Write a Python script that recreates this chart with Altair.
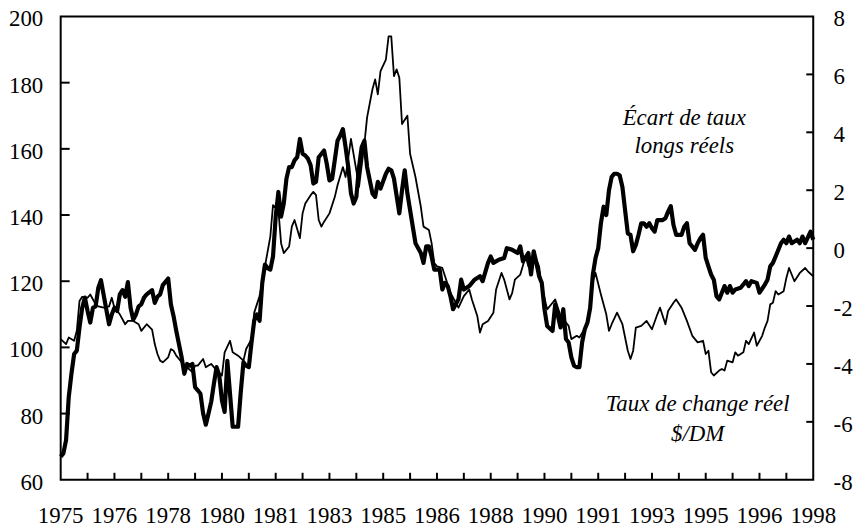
import altair as alt
import pandas as pd

# ---------------- data ----------------
x_labels = ["1975", "1976", "1978", "1980", "1981", "1983", "1985", "1986",
            "1988", "1990", "1991", "1993", "1995", "1996", "1998"]
x_label_month = [0, 20, 40, 60, 80, 100, 120, 140, 160, 180, 200, 220, 240, 260, 280]
left_ticks = [60, 80, 100, 120, 140, 160, 180, 200]
right_ticks = [-8, -6, -4, -2, 0, 2, 4, 6, 8]

# month index (0 = Jan 1975) ; real exchange rate $/DM (left axis)
thin_month = [0, 2, 3, 5, 6, 7, 8, 10, 11, 13, 14, 16, 18, 19, 20, 22, 24, 25, 27, 29,
              30, 32, 34, 35, 36, 37, 38, 40, 41, 42, 43, 45, 46, 47, 49, 50, 51, 53, 54, 55,
              56, 58, 60, 61, 63, 64, 66, 68, 69, 71, 72, 74, 76, 78, 79, 81, 82, 83, 85, 86,
              87, 89, 90, 91, 93, 94, 95, 96, 97, 98, 100, 102, 103, 105, 106, 108, 110, 111, 113, 114,
              116, 117, 118, 119, 121, 122, 123, 124, 125, 126, 127, 129, 130, 132, 134, 135, 137, 138, 139, 140,
              142, 143, 145, 147, 148, 150, 152, 153, 155, 156, 157, 159, 161, 162, 164, 165, 167, 168, 169, 171,
              173, 174, 175, 176, 178, 179, 181, 183, 184, 186, 188, 189, 190, 192, 193, 196, 198, 199, 201, 203,
              204, 205, 207, 209, 211, 212, 213, 214, 216, 218, 220, 222, 223, 225, 226, 228, 229, 231, 233, 235,
              237, 239, 240, 241, 242, 243, 245, 246, 247, 248, 250, 251, 252, 254, 255, 256, 258, 259, 261, 262,
              263, 264, 265, 266, 267, 269, 270, 271, 273, 275, 277, 278, 280]
thin_value = [102.5, 101, 103, 102, 105, 114, 115.3, 115, 116, 113, 112.4, 112, 112.4, 115, 112, 110, 107, 108, 108, 107,
              105, 107, 105.4, 101, 98, 96, 95.5, 97, 99.5, 99, 97.5, 95.5, 94.5, 94, 92.5, 94.5, 94.5, 96.5, 94, 94.5,
              95, 93, 91.5, 98.5, 102, 98.5, 97.5, 96, 99.5, 102.5, 110.5, 115.5, 124.5, 133.5, 143, 141.5, 131.5, 128.5, 130.5, 136.5,
              138.5, 133, 140.5, 143.5, 146, 147, 146, 138.5, 136.5, 138, 140.5, 145.5, 149, 154.5, 151.5, 163, 153.5, 148.5, 161.5, 169.5,
              178, 181, 176.5, 183.5, 187, 194, 194, 182, 184, 181.5, 167.5, 170, 158.5, 151.5, 142.5, 136.5, 135.5, 131.5, 125.5, 124.5,
              124, 121.5, 116.5, 113.5, 112, 115.5, 117.5, 114.5, 109.5, 104.5, 107, 108, 110.5, 117.5, 122.5, 120.5, 114.5, 116.5, 120.5, 122,
              127.5, 124.5, 123.5, 128.5, 124.5, 118.5, 111.5, 113.5, 114.5, 109.5, 107.5, 106.5, 102.5, 103.5, 103, 107, 120, 122.5, 116, 110,
              105, 107, 110.5, 107, 99, 96.5, 99, 106, 106.5, 108, 105.5, 110, 112, 107, 111, 113.5, 114.5, 112, 108, 103.5,
              101.5, 102, 98, 99, 92.5, 91.5, 93, 93.5, 93, 96, 95.5, 98.5, 97.5, 98.5, 102, 101, 104.5, 100.5, 103.5, 106,
              108, 113, 113.5, 117, 116, 117, 121, 124, 120, 122.5, 124, 123, 121.5]

# month index ; real long-term interest-rate gap (right axis)
thick_month = [0, 1, 2, 3, 4, 5, 6, 7, 8, 9, 10, 11, 12, 13, 14, 15, 16, 17, 18, 19,
               20, 21, 22, 23, 24, 25, 26, 27, 28, 29, 30, 31, 32, 34, 35, 36, 37, 38, 40, 41,
               42, 43, 45, 46, 47, 48, 49, 50, 51, 52, 53, 54, 55, 56, 57, 58, 59, 60, 61, 62,
               63, 64, 65, 66, 67, 68, 69, 70, 71, 72, 73, 74, 75, 76, 77, 78, 79, 80, 81, 82,
               83, 84, 85, 86, 87, 88, 89, 90, 91, 92, 93, 94, 95, 96, 98, 99, 100, 101, 103, 104,
               105, 106, 107, 108, 109, 110, 111, 112, 113, 114, 116, 117, 118, 119, 121, 122, 123, 124, 126, 127,
               128, 129, 131, 132, 134, 135, 136, 137, 138, 139, 141, 142, 143, 144, 145, 146, 148, 149, 150, 152,
               154, 156, 157, 159, 160, 161, 163, 165, 166, 168, 170, 171, 172, 174, 175, 176, 177, 178, 179, 180,
               181, 183, 184, 185, 186, 187, 188, 189, 190, 191, 192, 193, 194, 195, 196, 197, 198, 199, 200, 201,
               202, 203, 204, 205, 206, 207, 208, 209, 210, 211, 212, 213, 214, 215, 216, 217, 218, 219, 220, 221,
               222, 224, 225, 226, 227, 228, 229, 230, 231, 232, 233, 234, 236, 237, 238, 239, 240, 241, 242, 243,
               244, 245, 246, 247, 248, 249, 250, 251, 253, 255, 256, 257, 259, 260, 262, 263, 264, 265, 266, 268,
               269, 270, 271, 272, 274, 275, 276, 277, 279, 280]
thick_value = [-7.2, -7.09, -6.63, -5.14, -4.34, -3.66, -3.54, -2.74, -2.06, -1.71, -2.17, -2.57, -2.06, -2.01, -1.37, -1.11, -1.62, -2.13, -2.63, -2.29,
               -2.06, -2.17, -1.6, -1.45, -1.68, -1.17, -2.06, -2.47, -2.29, -2.01, -1.94, -1.71, -1.6, -1.45, -1.89, -1.68, -1.6, -1.28, -1.05, -1.94,
               -2.35, -2.86, -3.77, -4.34, -4.0, -4.06, -4.0, -4.8, -4.91, -5.03, -5.71, -6.1, -5.71, -5.31, -4.69, -4.11, -4.4, -5.26, -5.66, -3.89,
               -5.03, -6.17, -6.17, -6.17, -4.97, -3.94, -4.06, -4.11, -3.26, -2.51, -2.29, -2.51, -1.2, -0.57, -0.69, -0.74, -0.29, 1.09, 1.94, 1.09,
               1.54, 2.4, 2.8, 2.8, 3.03, 3.14, 3.77, 3.26, 3.2, 3.09, 2.86, 2.23, 2.29, 3.14, 3.37, 2.91, 2.34, 2.4, 3.71, 3.89,
               4.11, 3.49, 2.8, 1.89, 1.54, 1.77, 2.8, 3.49, 3.71, 2.8, 1.89, 1.77, 2.29, 2.06, 2.57, 2.74, 2.69, 2.4, 1.2, 2.0,
               2.69, 1.89, 0.74, 0.17, -0.17, -0.51, 0.06, 0.06, -0.29, -0.74, -0.74, -1.43, -1.2, -1.31, -1.66, -2.11, -1.77, -1.09, -1.43, -1.31,
               -1.09, -0.97, -1.14, -0.51, -0.29, -0.51, -0.4, -0.34, 0.0, -0.06, -0.17, 0.06, -0.46, -0.17, -0.91, -0.11, -0.51, -0.97, -1.2, -2.11,
               -2.69, -2.86, -1.94, -2.34, -2.74, -2.11, -3.14, -3.26, -3.77, -4.06, -4.11, -4.11, -3.26, -2.8, -2.57, -2.06, -0.91, -0.34, 0.0, 0.86,
               1.43, 1.14, 2.0, 2.46, 2.57, 2.57, 2.51, 2.11, 1.31, 0.51, 0.46, -0.11, 0.11, 0.46, 0.86, 0.86, 0.74, 0.86, 0.69, 0.57,
               0.97, 0.97, 1.03, 1.26, 1.45, 0.8, 0.46, 0.46, 0.46, 0.74, 0.86, 0.17, -0.06, 0.17, 0.34, 0.46, -0.34, -0.63, -0.91, -1.09,
               -1.66, -1.77, -1.54, -1.31, -1.54, -1.31, -1.54, -1.43, -1.37, -1.14, -1.31, -1.14, -1.2, -1.54, -1.26, -1.09, -0.63, -0.51, -0.29, 0.17,
               0.29, 0.17, 0.4, 0.17, 0.29, 0.17, 0.4, 0.17, 0.57, 0.29]

annot_text = ["Écart de taux", "longs réels", "Taux de change réel", "$/DM"]

# ---------------- chart ----------------
W, H = 757, 466
FONT = "Liberation Serif"
FS = 23

thin_df = pd.DataFrame({"m": thin_month, "v": thin_value})
thick_df = pd.DataFrame({"m": thick_month, "v": thick_value})
xlab_df = pd.DataFrame({"m": x_label_month, "label": x_labels})
ann_df = pd.DataFrame({"t": annot_text,
                       "m": [232, 232, 237, 237],
                       "v": [167.3, 158.7, 80.8, 71.8]})

xscale = alt.Scale(domain=[0, 280], nice=False, zero=False)
lscale = alt.Scale(domain=[60, 200], nice=False, zero=False)
rscale = alt.Scale(domain=[-8, 8], nice=False, zero=False)

common = dict(domain=False, ticks=False, grid=False, labelFont=FONT, labelFontSize=FS,
              labelColor="black", labelFlush=False, labelOverlap=False, labelOffset=2.5)

laxis = alt.Axis(values=left_ticks, orient="left", labelPadding=18, **common)
raxis = alt.Axis(values=right_ticks, orient="right", labelPadding=20,
                 labelExpr="datum.value < 0 ? '-' + abs(datum.value) : '' + datum.value", **common)

thin = alt.Chart(thin_df).mark_line(color="black", strokeWidth=1.8, strokeJoin="round").encode(
    x=alt.X("m:Q", scale=xscale, axis=None),
    y=alt.Y("v:Q", scale=lscale, axis=laxis, title=""),
)

lticks = alt.Chart(pd.DataFrame({"v": left_ticks[1:-1]})).mark_rule(color="black", strokeWidth=2).encode(
    y=alt.Y("v:Q", scale=lscale, axis=None),
    x=alt.value(0), x2=alt.value(9),
)

bticks = alt.Chart(pd.DataFrame({"m": list(range(10, 280, 10))})).mark_rule(color="black", strokeWidth=2).encode(
    x=alt.X("m:Q", scale=xscale, axis=None),
    y=alt.value(H), y2=alt.value(H - 7),
)

xlabels = alt.Chart(xlab_df).mark_text(font=FONT, fontSize=FS, align="center", baseline="alphabetic",
                                       color="black").encode(
    x=alt.X("m:Q", scale=xscale, axis=None),
    y=alt.value(H + 44),
    text="label:N",
)

ann = alt.Chart(ann_df).mark_text(font=FONT, fontSize=FS, fontStyle="italic", align="center",
                                  baseline="alphabetic", color="black").encode(
    x=alt.X("m:Q", scale=xscale, axis=None),
    y=alt.Y("v:Q", scale=lscale, axis=None),
    text="t:N",
)

thick = alt.Chart(thick_df).mark_line(color="black", strokeWidth=4.2, strokeJoin="round").encode(
    x=alt.X("m:Q", scale=xscale, axis=None),
    y=alt.Y("v:Q", scale=rscale, axis=raxis, title=""),
)

rticks = alt.Chart(pd.DataFrame({"v": right_ticks[1:-1]})).mark_rule(color="black", strokeWidth=2).encode(
    y=alt.Y("v:Q", scale=rscale, axis=None),
    x=alt.value(W), x2=alt.value(W - 7),
)

chart = alt.layer(thin, lticks, bticks, xlabels, ann, thick, rticks).resolve_scale(y="independent").properties(
    width=W, height=H,
    padding={"left": 53, "top": 7, "right": 40, "bottom": 49},
    autosize=alt.AutoSizeParams(type="none"),
    background="white",
).configure_view(stroke="black", strokeWidth=2)

chart.save("out.html", embed_options={"renderer": "svg", "actions": False})
